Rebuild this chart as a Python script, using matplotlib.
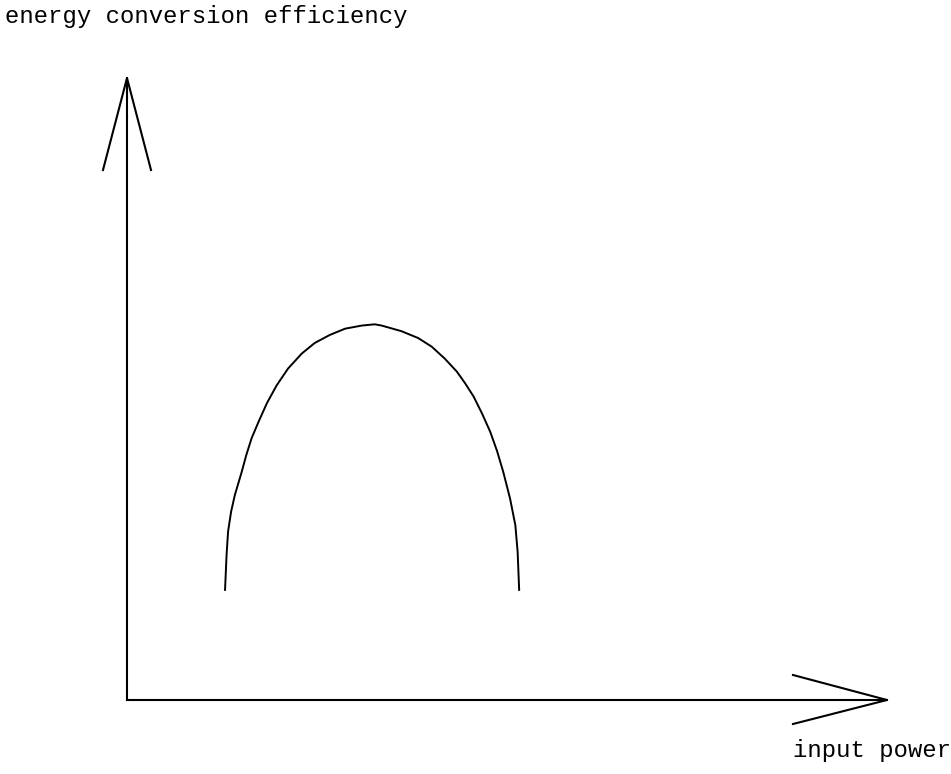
import matplotlib.pyplot as plt

# Points (puissance d'entrée, rendement), unités arbitraires 0-100
input_power = [12.9, 13.1, 13.3, 13.7, 14.2, 15.1, 15.7, 16.4, 17.3, 18.4,
               19.7, 21.2, 23.0, 24.7, 26.7, 28.7, 30.9, 32.6, 33.5, 36.1, 38.3,
               40.1, 41.8, 43.4, 44.5, 45.6, 46.7, 47.8, 48.7, 49.5, 50.4,
               51.1, 51.4, 51.6]
efficiency = [17.7, 23.3, 27.1, 30.3, 33.0, 36.7, 39.4, 42.1, 44.7, 47.7,
              50.6, 53.3, 55.7, 57.4, 58.7, 59.7, 60.2, 60.4, 60.2, 59.3, 58.2,
              56.8, 54.9, 52.8, 50.9, 48.8, 46.1, 43.1, 40.0, 36.7, 32.4,
              28.1, 23.8, 17.7]

x_label = "input power"
y_label = "energy conversion efficiency"

fig = plt.figure(figsize=(9.51, 7.74), dpi=100)
ax = fig.add_axes([127 / 951, 74 / 774, 760 / 951, 622 / 774])
ax.set_xlim(0, 100)
ax.set_ylim(0, 100)
ax.axis('off')

# Courbe du rendement
ax.plot(input_power, efficiency, color='black', lw=1.4, solid_joinstyle='round')

# Axes avec flèches ouvertes
ax.plot([0, 1], [0, 0], transform=ax.transAxes, color='black', lw=1.5, clip_on=False)
ax.plot([0, 0], [0, 1], transform=ax.transAxes, color='black', lw=1.5, clip_on=False)
ax.plot([-24 / 760, 0, 24 / 760], [1 - 92 / 622, 1, 1 - 92 / 622], color='black', lw=1.5,
        transform=ax.transAxes, clip_on=False)
ax.plot([1 - 94 / 760, 1, 1 - 94 / 760], [25 / 622, 0, -24 / 622], color='black', lw=1.5,
        transform=ax.transAxes, clip_on=False)

# Étiquettes
fig.text(5 / 951, 1 - 5 / 774, y_label, family='Liberation Mono', fontsize=17.2,
         ha='left', va='top')
fig.text(793 / 951, 1 - 739 / 774, x_label, family='Liberation Mono', fontsize=17.2,
         ha='left', va='top')

plt.savefig('out.png', dpi=100)
plt.close()
